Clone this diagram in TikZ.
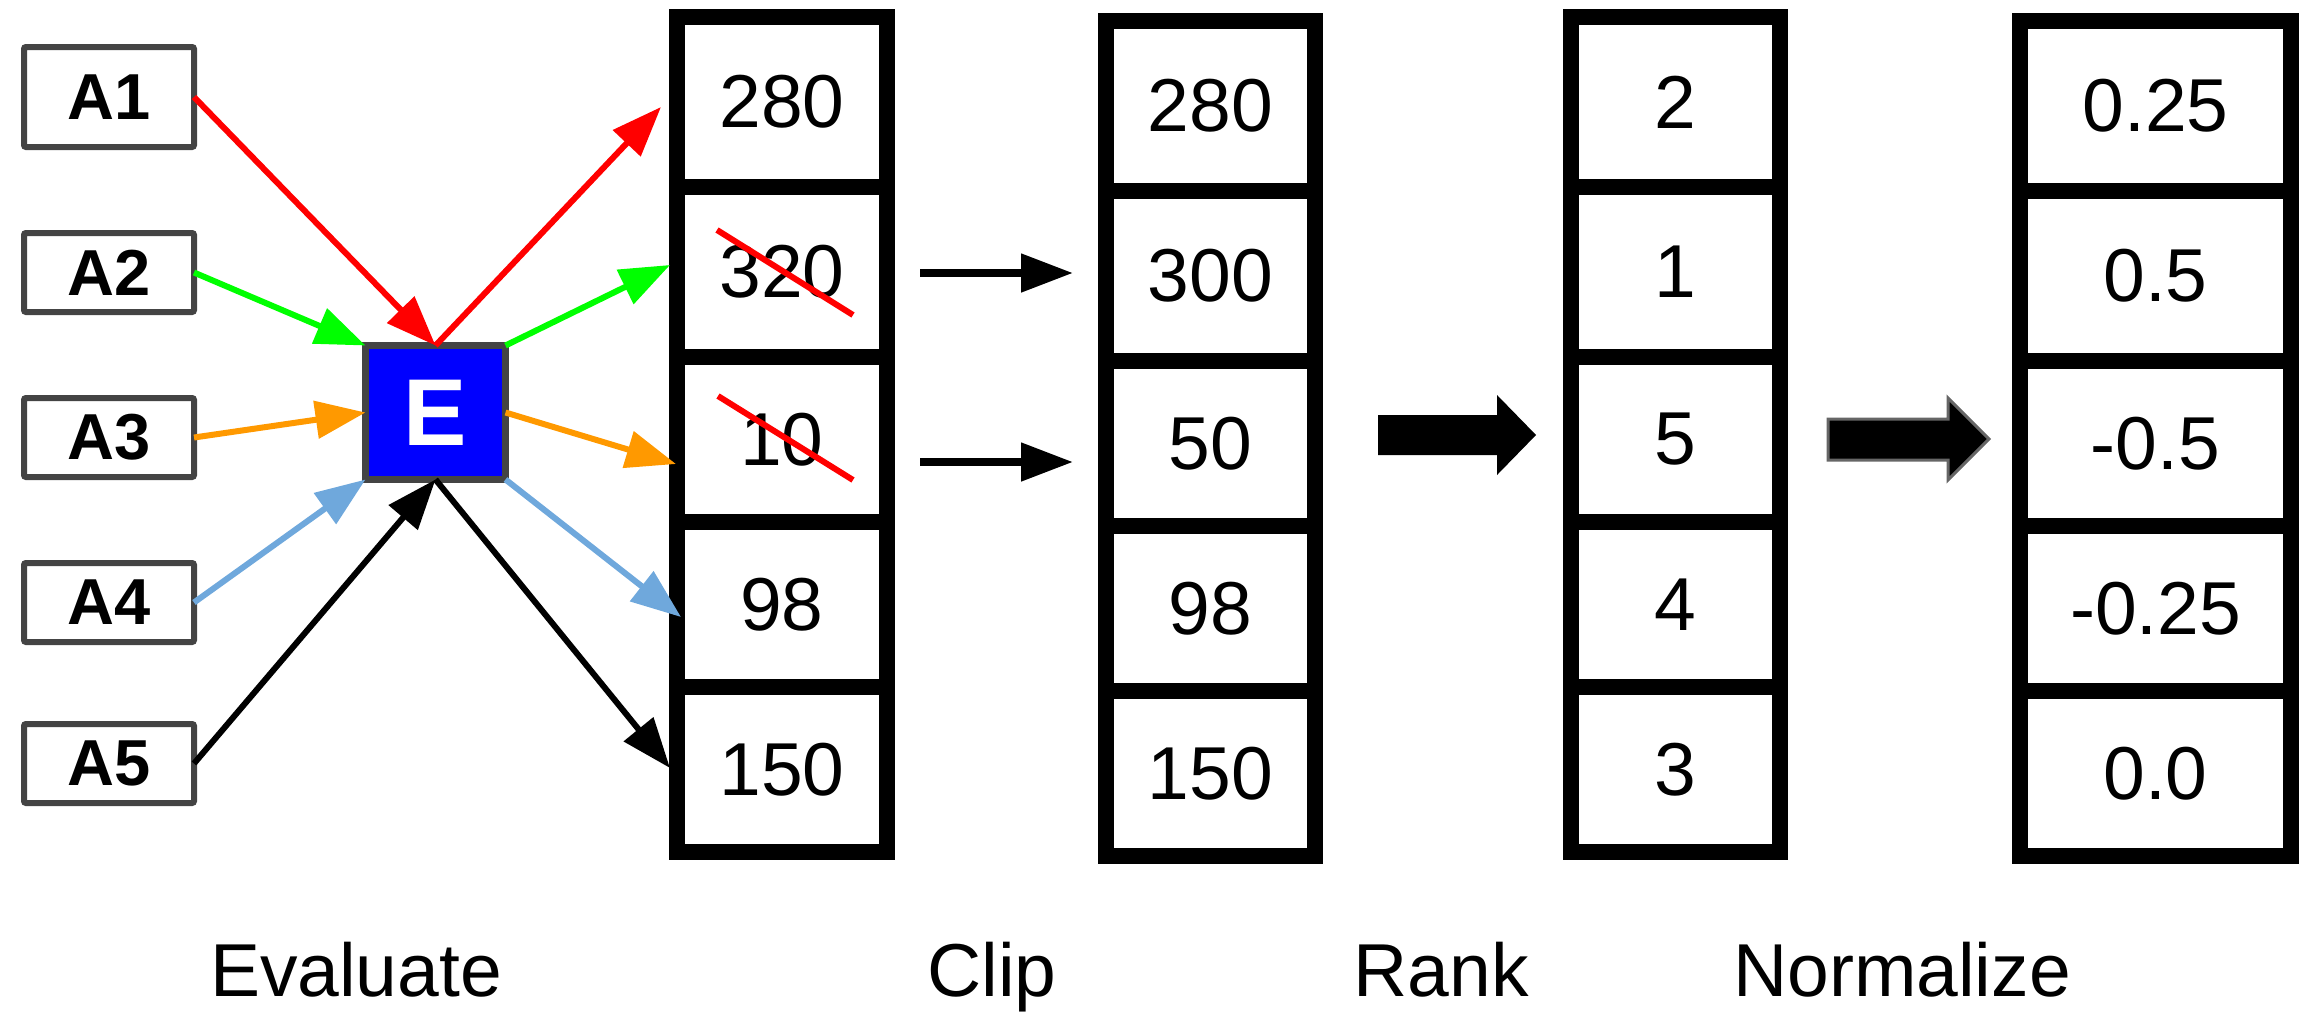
\documentclass[tikz,border=0pt]{standalone}
\usepackage{fontspec}
\setmainfont{Liberation Sans}
\usetikzlibrary{arrows.meta}
\definecolor{boxgray}{HTML}{444444}
\definecolor{myred}{HTML}{FF0000}
\definecolor{mygreen}{HTML}{00FF00}
\definecolor{myorange}{HTML}{FF9900}
\definecolor{myblue}{HTML}{6FA8DC}
\definecolor{eblue}{HTML}{0000FF}
\definecolor{arrgray}{HTML}{666666}
\begin{document}
\begin{tikzpicture}[x=1pt,y=-1pt,
  abox/.style={draw=boxgray, fill=white, line width=6pt, rounded corners=2pt,
    minimum width=170pt, inner sep=0pt, outer sep=0pt,
    font=\fontsize{65}{65}\selectfont\bfseries},
  ebox/.style={draw=boxgray, fill=eblue, line width=7pt, minimum width=140pt,
    minimum height=134pt, inner sep=0pt, outer sep=0pt, text=white,
    font=\fontsize{95}{95}\selectfont\bfseries},
  cell/.style={draw=black, line width=16pt, inner sep=0pt, outer sep=0pt,
    font=\fontsize{75}{75}\selectfont},
  tall/.style={minimum height=170pt},
  short/.style={minimum height=165pt},
  wa/.style={minimum width=210pt},
  wb/.style={minimum width=209pt},
  wc/.style={minimum width=271pt},
  conn/.style={line width=6pt, -{Triangle[length=50pt,width=37pt]}},
  cliparrow/.style={line width=8pt, -{Triangle[length=52pt,width=37pt]}},
  strike/.style={draw=myred, line width=6pt},
  steplabel/.style={anchor=base, inner sep=0pt, font=\fontsize{75}{75}\selectfont},
  blockarrow/.style={fill=black}
]
\useasboundingbox (0,0) rectangle (2314,1018);

% input boxes
\node[abox, minimum height=100pt] (A1) at (109,97) {A1};
\node[abox, minimum height=79pt] (A2) at (109,272.5) {A2};
\node[abox, minimum height=79pt] (A3) at (109,437.5) {A3};
\node[abox, minimum height=79pt] (A4) at (109,602.5) {A4};
\node[abox, minimum height=79pt] (A5) at (109,763.5) {A5};

% evaluator
\node[ebox] (E) at (435.5,412.5) {E};

% column 1: evaluated
\node[cell, wa, tall]  (c1a) at (782,102)   {280};
\node[cell, wa, tall]  (c1b) at (782,272)   {320};
\node[cell, wa, short] (c1c) at (782,439.5) {10};
\node[cell, wa, short] (c1d) at (782,604.5) {98};
\node[cell, wa, short] (c1e) at (782,769.5) {150};

% column 2: clipped
\node[cell, wb, tall]  (c2a) at (1210.5,106)   {280};
\node[cell, wb, tall]  (c2b) at (1210.5,276)   {300};
\node[cell, wb, short] (c2c) at (1210.5,443.5) {50};
\node[cell, wb, short] (c2d) at (1210.5,608.5) {98};
\node[cell, wb, short] (c2e) at (1210.5,773.5) {150};

% column 3: ranks
\node[cell, wb, tall]  (c3a) at (1675.5,102)   {2};
\node[cell, wb, tall]  (c3b) at (1675.5,272)   {1};
\node[cell, wb, short] (c3c) at (1675.5,439.5) {5};
\node[cell, wb, short] (c3d) at (1675.5,604.5) {4};
\node[cell, wb, short] (c3e) at (1675.5,769.5) {3};

% column 4: normalized
\node[cell, wc, tall]  (c4a) at (2155.5,106)   {0.25};
\node[cell, wc, tall]  (c4b) at (2155.5,276)   {0.5};
\node[cell, wc, short] (c4c) at (2155.5,443.5) {-0.5};
\node[cell, wc, short] (c4d) at (2155.5,608.5) {-0.25};
\node[cell, wc, short] (c4e) at (2155.5,773.5) {0.0};

% strike-throughs
\draw[strike] (717,230) -- (853,315);
\draw[strike] (718,396) -- (853,480);

% arrow targets
\coordinate (t1) at (661,107);
\coordinate (t2) at (670,265);
\coordinate (t3) at (676,464);
\coordinate (t4) at (681,617);
\coordinate (t5) at (670,768);

% inputs into E
\draw[conn, myred]    (A1.east) -- (E.north);
\draw[conn, mygreen]  (A2.east) -- (E.north west);
\draw[conn, myorange] (A3.east) -- (E.west);
\draw[conn, myblue]   (A4.east) -- (E.south west);
\draw[conn, black]    (A5.east) -- (E.south);

% outputs from E
\draw[conn, myred]    (E.north) -- (t1);
\draw[conn, mygreen]  (E.north east) -- (t2);
\draw[conn, myorange] (E.east) -- (t3);
\draw[conn, myblue]   (E.south east) -- (t4);
\draw[conn, black]    (E.south) -- (t5);

% clip arrows
\coordinate (k1s) at (920,273);
\coordinate (k1e) at (1073,273);
\coordinate (k2s) at (920,462);
\coordinate (k2e) at (1073,462);
\draw[cliparrow] (k1s) -- (k1e);
\draw[cliparrow] (k2s) -- (k2e);

% block arrows
\fill[blockarrow] (1378,415) -- (1497,415) -- (1497,395) -- (1536,435)
  -- (1497,475) -- (1497,455) -- (1378,455) -- cycle;
\filldraw[blockarrow, draw=arrgray, line width=3pt] (1828,419) -- (1948,419)
  -- (1948,398) -- (1989,439) -- (1948,480) -- (1948,460) -- (1828,460) -- cycle;

% step labels
\node[steplabel] (lEval) at (356,996) {Evaluate};
\node[steplabel] (lClip) at (992,996) {Clip};
\node[steplabel] (lRank) at (1441,996) {Rank};
\node[steplabel] (lNorm) at (1902,996) {Normalize};
\end{tikzpicture}
\end{document}
